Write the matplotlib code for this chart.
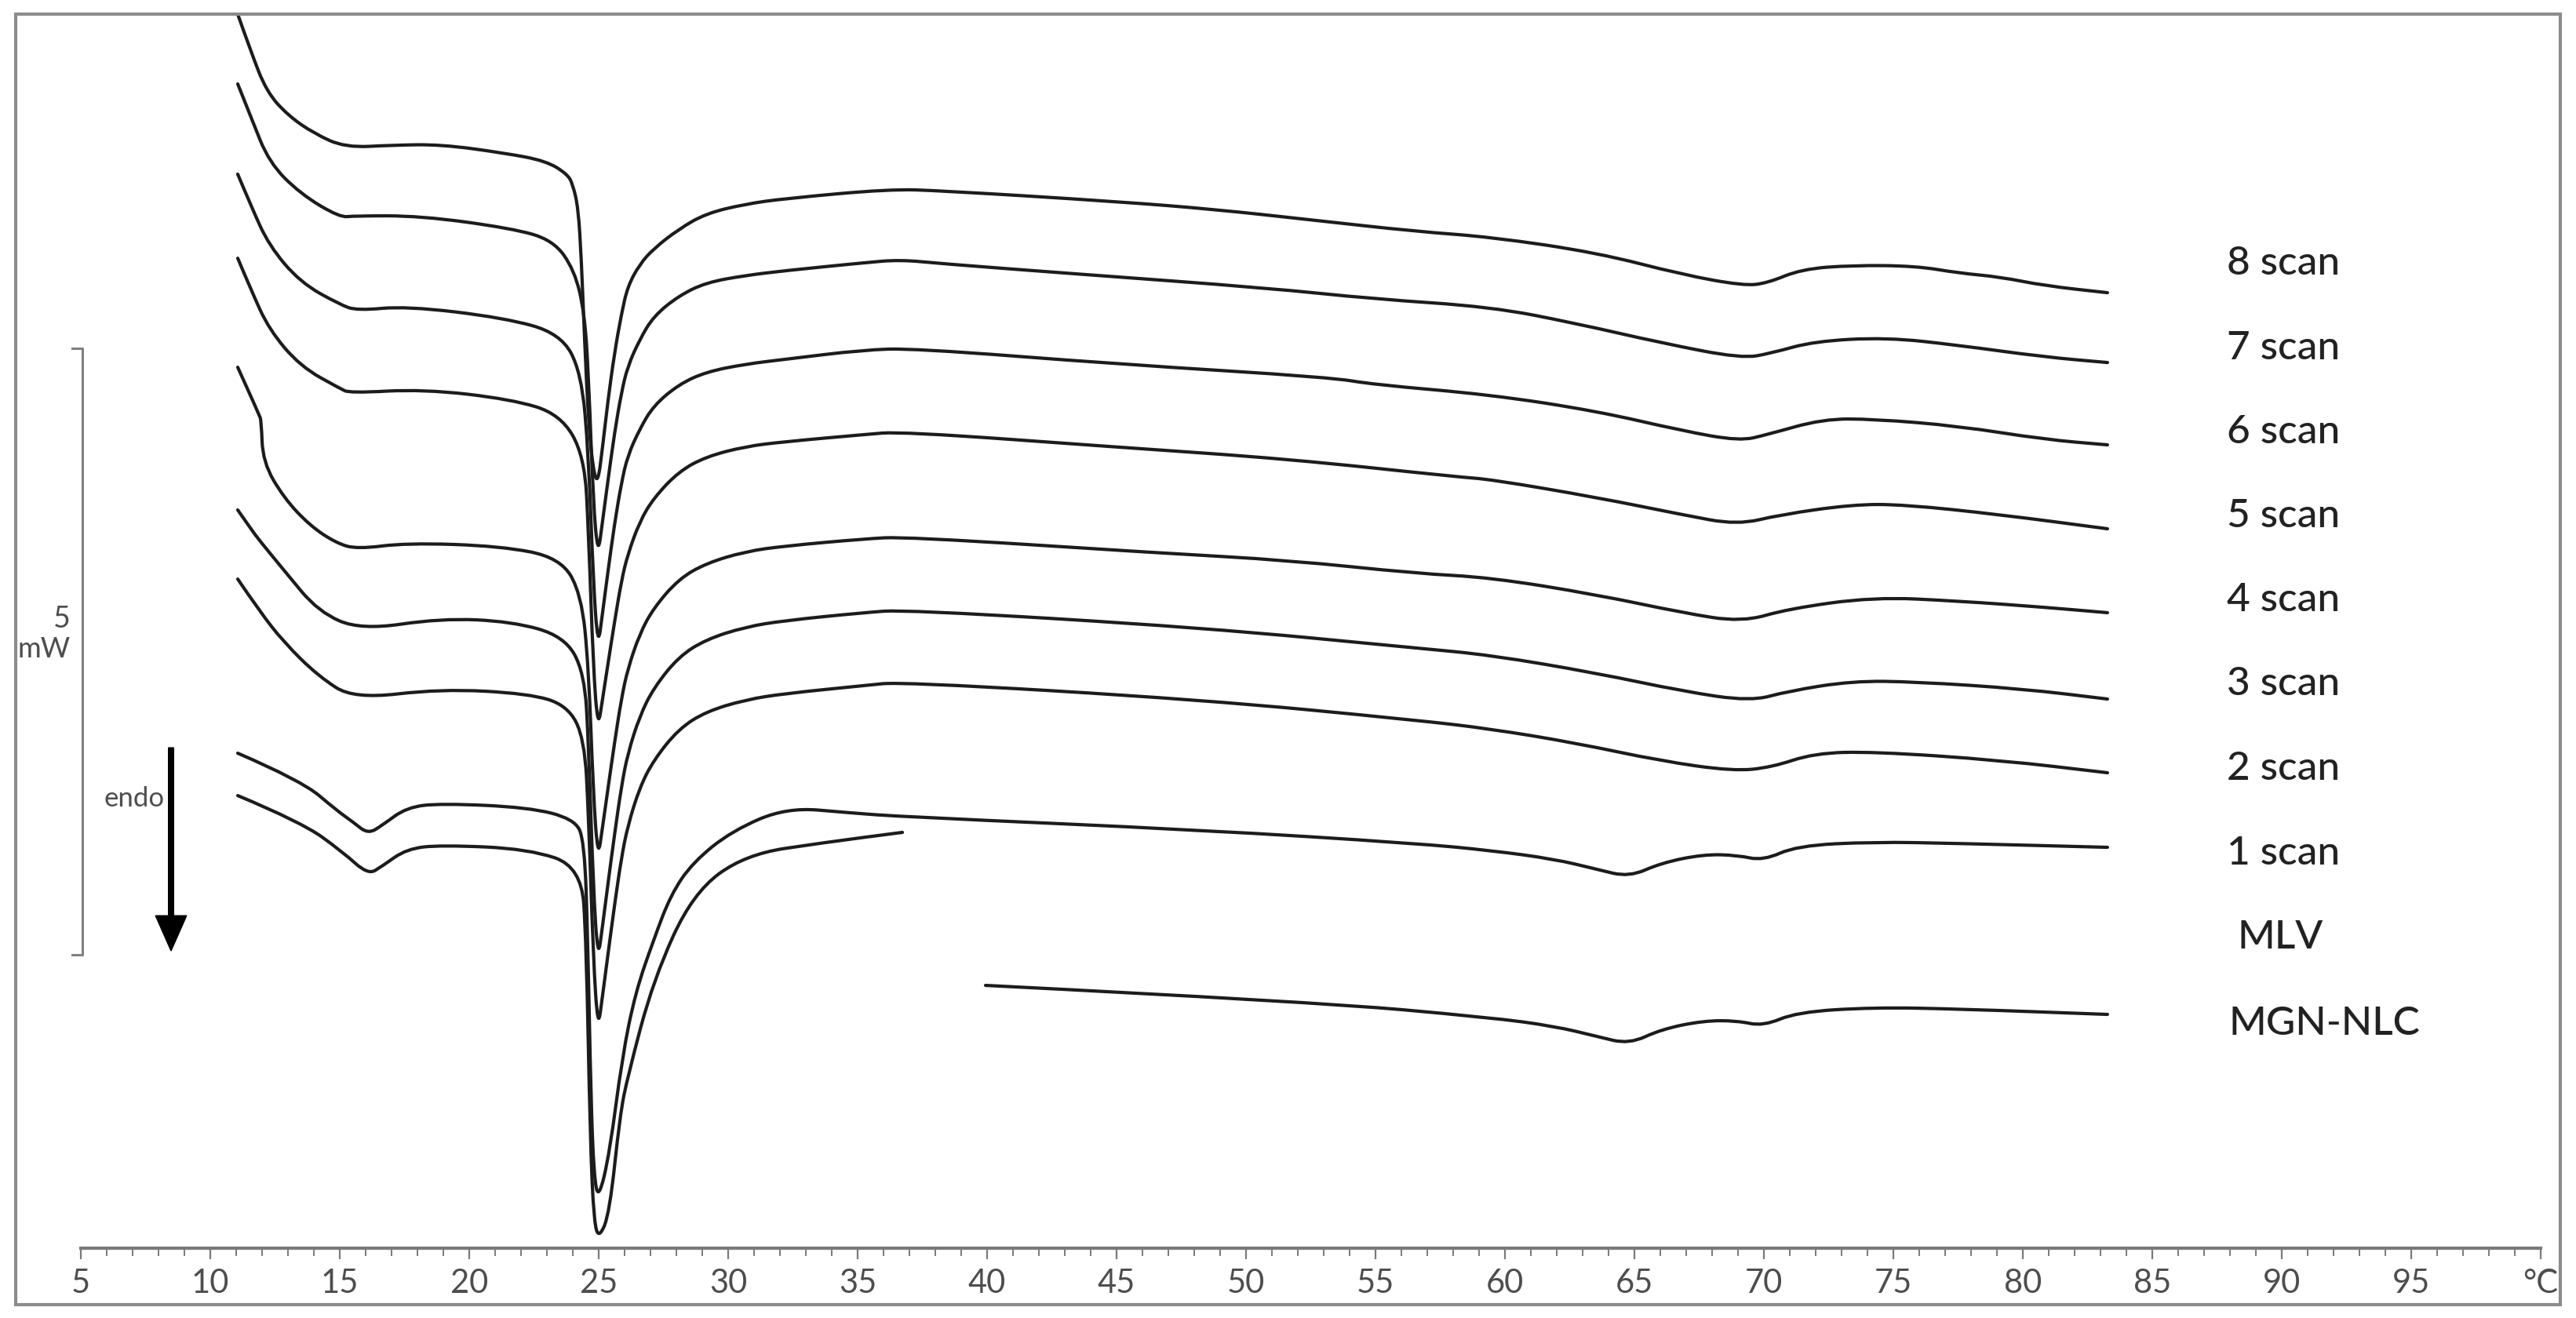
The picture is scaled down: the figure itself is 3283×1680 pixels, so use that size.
import matplotlib
matplotlib.use('Agg')
import matplotlib.pyplot as plt
from matplotlib.patches import Rectangle, PathPatch
from matplotlib.path import Path
from matplotlib.ticker import MultipleLocator
from matplotlib import font_manager

# ---------------- data (temperature in °C, heat flow in mW, stacked) ----------------
t_scan8 = [11.06, 11.58, 12.18, 13.00, 14.00, 15.21, 17.03, 18.91, 21.36, 22.97, 23.79, 24.00,
           24.21, 24.33, 24.45, 24.61, 24.79, 24.97, 25.15, 25.36, 25.61, 25.88, 26.12, 26.58,
           27.12, 28.09, 29.15, 30.67, 32.18, 36.21, 38.24, 45.06, 48.85, 52.45, 56.58, 59.45,
           63.55, 66.85, 69.21, 70.12, 71.45, 73.42, 75.88, 77.52, 79.15, 80.82, 83.27]
hf_scan8 = [10.162, 9.845, 9.522, 9.328, 9.180, 9.063, 9.083, 9.089, 9.018, 8.953, 8.844, 8.760,
            8.566, 8.146, 7.500, 6.789, 6.402, 6.298, 6.596, 6.983, 7.371, 7.694, 7.920, 8.101,
            8.230, 8.391, 8.521, 8.598, 8.643, 8.721, 8.708, 8.618, 8.553, 8.469, 8.372, 8.327,
            8.198, 8.017, 7.926, 7.946, 8.062, 8.094, 8.088, 8.030, 7.997, 7.926, 7.868]

t_scan7 = [11.06, 11.58, 12.27, 13.48, 15.00, 15.55, 18.12, 21.64, 23.24, 24.06, 24.45, 24.61,
           24.79, 24.97, 25.15, 25.36, 25.61, 25.88, 26.12, 26.58, 27.12, 28.09, 29.15, 30.67,
           32.18, 35.21, 36.64, 38.24, 43.42, 50.82, 54.91, 59.45, 62.73, 66.03, 69.15, 70.30,
           71.94, 74.73, 77.52, 80.82, 83.27]
hf_scan7 = [9.587, 9.309, 8.941, 8.682, 8.488, 8.501, 8.501, 8.398, 8.301, 8.056, 7.707, 7.177,
            6.144, 5.698, 5.988, 6.324, 6.712, 7.048, 7.261, 7.481, 7.674, 7.842, 7.952, 8.010,
            8.049, 8.114, 8.140, 8.107, 8.023, 7.907, 7.817, 7.752, 7.616, 7.455, 7.326, 7.371,
            7.468, 7.500, 7.435, 7.339, 7.293]

t_scan6 = [11.06, 11.58, 12.27, 13.48, 15.00, 15.67, 17.58, 21.36, 23.52, 24.33, 24.61, 24.79,
           24.97, 25.15, 25.36, 25.61, 25.88, 26.12, 26.58, 27.12, 28.09, 29.15, 30.67, 32.18,
           35.21, 37.18, 45.06, 53.27, 54.91, 59.45, 63.55, 66.85, 69.06, 70.12, 72.27, 74.24,
           77.52, 80.82, 83.27]
hf_scan6 = [8.844, 8.579, 8.256, 7.952, 7.771, 7.720, 7.758, 7.661, 7.532, 7.216, 6.531, 5.497,
            4.942, 5.233, 5.575, 5.963, 6.305, 6.525, 6.744, 6.938, 7.112, 7.216, 7.280, 7.319,
            7.397, 7.410, 7.280, 7.171, 7.112, 7.028, 6.893, 6.731, 6.647, 6.699, 6.828, 6.828,
            6.770, 6.660, 6.615]

t_scan5 = [11.06, 11.58, 12.27, 13.48, 15.00, 15.39, 18.24, 21.64, 23.52, 24.45, 24.61, 24.79,
           24.97, 25.15, 25.36, 25.61, 25.88, 26.12, 26.58, 27.12, 28.09, 29.15, 30.67, 32.18,
           35.21, 36.70, 45.06, 51.64, 58.21, 59.45, 63.55, 66.85, 68.97, 70.64, 73.42, 75.39,
           79.15, 83.27]
hf_scan5 = [8.152, 7.888, 7.565, 7.261, 7.080, 7.041, 7.074, 6.990, 6.867, 6.525, 5.885, 4.787,
            4.276, 4.522, 4.813, 5.155, 5.497, 5.711, 5.982, 6.176, 6.395, 6.518, 6.602, 6.641,
            6.699, 6.725, 6.596, 6.499, 6.350, 6.331, 6.182, 6.040, 5.956, 6.040, 6.124, 6.124,
            6.040, 5.924]

t_scan4 = [11.06, 11.88, 11.97, 12.03, 12.85, 13.85, 14.85, 15.67, 17.58, 21.21, 23.52, 24.33,
           24.61, 24.79, 24.97, 25.15, 25.36, 25.61, 25.88, 26.12, 26.58, 27.12, 28.09, 29.15,
           30.67, 32.18, 35.21, 36.85, 46.70, 51.64, 56.58, 59.45, 63.55, 66.85, 69.15, 70.94,
           74.24, 77.52, 80.82, 83.27]
hf_scan4 = [7.254, 6.867, 6.815, 6.473, 6.176, 5.950, 5.808, 5.756, 5.808, 5.782, 5.685, 5.388,
            4.787, 3.753, 3.204, 3.469, 3.786, 4.160, 4.528, 4.767, 5.058, 5.271, 5.510, 5.640,
            5.737, 5.782, 5.840, 5.859, 5.724, 5.665, 5.556, 5.523, 5.381, 5.233, 5.155, 5.265,
            5.362, 5.329, 5.278, 5.233]

t_scan3 = [11.06, 11.58, 11.88, 12.85, 14.18, 15.82, 18.91, 21.64, 23.67, 24.45, 24.61, 24.79,
           24.97, 25.15, 25.36, 25.61, 25.88, 26.12, 26.58, 27.12, 28.09, 29.15, 30.67, 32.18,
           35.21, 36.85, 48.36, 56.58, 59.45, 63.55, 66.85, 69.48, 70.94, 73.42, 75.88, 80.00,
           83.27]
hf_scan3 = [6.079, 5.920, 5.833, 5.581, 5.239, 5.090, 5.187, 5.161, 5.039, 4.742, 4.141, 2.978,
            2.371, 2.655, 3.004, 3.404, 3.805, 4.070, 4.380, 4.612, 4.871, 5.013, 5.116, 5.168,
            5.233, 5.258, 5.110, 4.942, 4.884, 4.735, 4.587, 4.503, 4.587, 4.671, 4.664, 4.606,
            4.522]

t_scan2 = [11.06, 11.88, 12.85, 14.18, 15.55, 18.91, 22.30, 23.79, 24.45, 24.61, 24.79, 24.97,
           25.15, 25.36, 25.61, 25.88, 26.12, 26.58, 27.12, 28.09, 29.15, 30.67, 32.18, 35.21,
           36.70, 48.36, 56.58, 59.45, 62.73, 66.03, 68.82, 70.30, 71.94, 74.24, 79.15, 83.27]
hf_scan2 = [5.510, 5.252, 4.987, 4.709, 4.522, 4.606, 4.567, 4.470, 4.199, 3.559, 2.397, 1.796,
            2.080, 2.422, 2.823, 3.217, 3.475, 3.792, 4.018, 4.276, 4.419, 4.516, 4.567, 4.632,
            4.664, 4.516, 4.348, 4.276, 4.160, 4.012, 3.928, 3.960, 4.076, 4.089, 4.018, 3.915]

t_scan1 = [11.06, 13.52, 14.88, 15.52, 16.09, 16.64, 17.58, 18.91, 22.30, 24.06, 24.45, 24.58,
           24.70, 24.82, 25.00, 25.42, 25.91, 26.42, 27.12, 27.79, 28.64, 30.15, 32.27, 34.70,
           36.73, 48.36, 56.58, 59.45, 61.91, 63.55, 64.79, 66.03, 67.67, 68.97, 69.97, 71.27,
           74.24, 77.52, 83.27]
hf_scan1 = [4.076, 3.850, 3.605, 3.508, 3.411, 3.482, 3.630, 3.663, 3.630, 3.534, 3.359, 2.526,
            1.234, 0.588, 0.401, 0.782, 1.576, 2.106, 2.539, 2.913, 3.178, 3.437, 3.630, 3.585,
            3.553, 3.443, 3.333, 3.275, 3.204, 3.120, 3.056, 3.172, 3.243, 3.236, 3.191, 3.314,
            3.346, 3.333, 3.301]

t_mlv = [11.06, 13.52, 15.12, 16.09, 16.64, 17.58, 18.91, 22.30, 24.33, 24.52, 24.67, 24.82,
         25.03, 25.42, 25.82, 26.12, 27.12, 28.64, 30.67, 33.70, 36.73]
hf_mlv = [3.727, 3.508, 3.262, 3.075, 3.146, 3.288, 3.320, 3.288, 3.140, 2.526, 0.911, 0.200,
          0.084, 0.291, 1.092, 1.415, 2.216, 2.926, 3.243, 3.340, 3.424]

t_nlc = [39.94, 52.64, 59.45, 61.91, 63.55, 64.79, 66.03, 67.67, 68.97, 69.97, 71.27, 74.24,
         77.52, 83.27]
hf_nlc = [2.164, 2.028, 1.899, 1.828, 1.744, 1.680, 1.802, 1.873, 1.873, 1.828, 1.944, 1.983,
          1.970, 1.925]

curve_names = ['8 scan', '7 scan', '6 scan', '5 scan', '4 scan', '3 scan', '2 scan', '1 scan',
               'MLV', 'MGN-NLC']
label_t = [87.88, 87.88, 87.88, 87.88, 87.88, 87.88, 87.88, 87.88, 88.30, 87.95]
label_hf = [8.107, 7.410, 6.718, 6.027, 5.336, 4.645, 3.947, 3.249, 2.558, 1.848]

tick_values = list(range(5, 101, 5))
tick_labels = [str(v) for v in range(5, 100, 5)] + ['°C']

# ---------------- fonts ----------------
installed = {f.name for f in font_manager.fontManager.ttflist}
LABEL_FONT = 'Lato' if 'Lato' in installed else 'DejaVu Sans'
TICK_FONT = 'Liberation Sans Narrow' if 'Liberation Sans Narrow' in installed else LABEL_FONT


def smooth_path(t, hf):
    # quadratic B-spline rendering through the read points (data points act as controls)
    pts = list(zip(t, hf))
    verts, codes = [pts[0]], [Path.MOVETO]
    for i in range(1, len(pts) - 1):
        nxt = ((pts[i][0] + pts[i + 1][0]) / 2, (pts[i][1] + pts[i + 1][1]) / 2)
        verts += [pts[i], nxt]
        codes += [Path.CURVE3, Path.CURVE3]
    verts.append(pts[-1])
    codes.append(Path.LINETO)
    return Path(verts, codes)


W, H = 3283, 1680
fig = plt.figure(figsize=(W / 100, H / 100), dpi=100)
fig.patch.set_facecolor('white')

# outer gray frame
fig.add_artist(Rectangle((20 / W, 1 - 1663 / H), (3263 - 20) / W, (1663 - 18) / H,
                         transform=fig.transFigure, fill=False, ec='#8c8c8c', lw=3))

ax = fig.add_axes([103 / W, 89 / H, 3135 / W, 1573 / H])
ax.patch.set_alpha(0)

curves = [(t_scan8, hf_scan8), (t_scan7, hf_scan7), (t_scan6, hf_scan6), (t_scan5, hf_scan5),
          (t_scan4, hf_scan4), (t_scan3, hf_scan3), (t_scan2, hf_scan2), (t_scan1, hf_scan1),
          (t_mlv, hf_mlv), (t_nlc, hf_nlc)]
for t, hf in curves:
    ax.add_patch(PathPatch(smooth_path(t, hf), fill=False, ec='#1c1c1c', lw=3.0,
                           joinstyle='round', capstyle='round', clip_on=False))
ax.set_xlim(5, 100)
ax.set_ylim(0, 10.162)

for name, tx, ty in zip(curve_names, label_t, label_hf):
    ax.text(tx, ty, name, ha='left', va='center', fontsize=37, color='#222222',
            family=LABEL_FONT, fontweight='medium')

# axis styling
for s in ['left', 'right', 'top']:
    ax.spines[s].set_visible(False)
ax.spines['bottom'].set_color('#7a7a7a')
ax.spines['bottom'].set_linewidth(3)
ax.set_yticks([])
ax.set_xticks(tick_values, tick_labels)
ax.xaxis.set_minor_locator(MultipleLocator(1))
ax.tick_params(axis='x', which='major', length=10, width=1.6, color='#7a7a7a', pad=9,
               labelsize=30, labelcolor='#4d4d4d')
ax.tick_params(axis='x', which='minor', length=7, width=1.4, color='#7a7a7a')
for lab in ax.get_xticklabels():
    lab.set_fontfamily(TICK_FONT)

# 5 mW scale bar
ax.plot([4.67, 5.06, 5.06, 4.67], [7.410, 7.410, 2.416, 2.416], color='#808080', lw=2.2,
        clip_on=False)
ax.text(4.60, 5.18, '5', ha='right', va='center', fontsize=27, color='#4d4d4d', family=LABEL_FONT)
ax.text(4.60, 4.93, 'mW', ha='right', va='center', fontsize=26, color='#4d4d4d', family=LABEL_FONT)

# endo arrow
ax.arrow(8.485, 4.121, 0, -1.673, width=0.2, head_width=1.2, head_length=0.29,
         length_includes_head=True, color='black', clip_on=False)
ax.text(7.05, 3.70, 'endo', ha='center', va='center', fontsize=25, color='#4d4d4d',
        family=LABEL_FONT)

fig.savefig('out.png', dpi=100, facecolor='white')
